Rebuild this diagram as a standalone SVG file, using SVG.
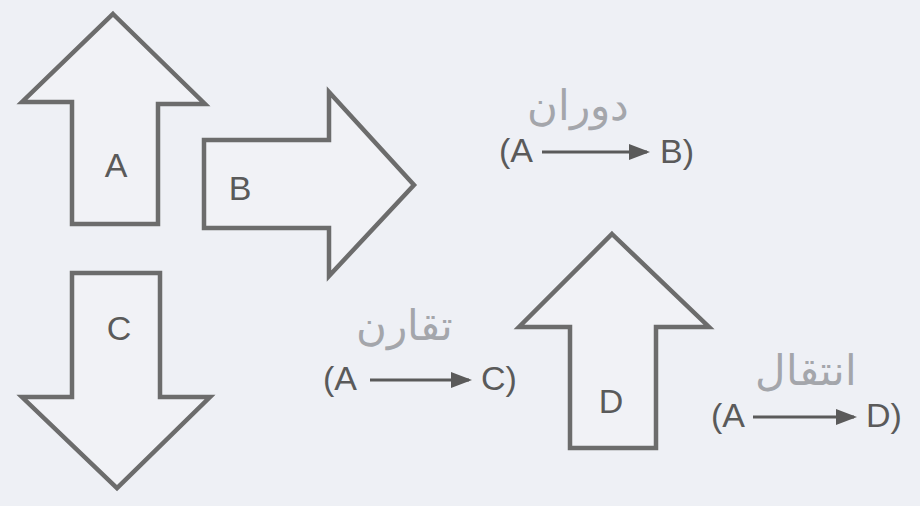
<svg xmlns="http://www.w3.org/2000/svg" width="920" height="506" viewBox="0 0 920 506">
<style>
.shape{fill:#f1f2f6;stroke:#6c6c6c;stroke-width:4.5;stroke-linejoin:miter}
.lbl{font-family:"Liberation Sans",Arial,sans-serif;font-size:34px;fill:#5a5a5a;text-anchor:middle}
.t{font-family:"Liberation Sans",Arial,sans-serif;font-size:34px;fill:#5a5a5a}
.ur{font-family:"DejaVu Sans","Noto Sans",sans-serif;font-size:42px;font-weight:200;fill:#a4a6ab;text-anchor:middle}
.conn{stroke:#5a5a5a;stroke-width:3;fill:none}
</style>
<defs>
<marker id="ah" markerWidth="7" markerHeight="6" refX="6" refY="3" orient="auto" markerUnits="strokeWidth">
<path d="M0,0.3 L7,3 L0,5.7 Z" fill="#5a5a5a"/>
</marker>
</defs>
<rect width="920" height="506" fill="#eef0f5"/>
<g id="arrowA">
<polygon class="shape" points="113,14 205,104 158,104 158,224 72,224 72,102 22,102"/>
<text class="lbl" x="116" y="177">A</text>
</g>
<g id="arrowB">
<polygon class="shape" points="204,140 329,140 329,92 414,185 329,276 329,228 204,228"/>
<text class="lbl" x="240" y="200">B</text>
</g>
<g id="arrowC">
<polygon class="shape" points="72,273 160,273 160,397 210,397 117,488 22,397 72,397"/>
<text class="lbl" x="119" y="340">C</text>
</g>
<g id="arrowD">
<polygon class="shape" points="612,234 709,327 656,327 656,448 570,448 570,327 519,327"/>
<text class="lbl" x="611" y="413">D</text>
</g>
<g id="captionB">
<text class="ur" x="578" y="120" direction="rtl">دوران</text>
<text class="t" x="499" y="162">(A</text>
<text class="t" x="660" y="163">B)</text>
</g>
<g id="captionC">
<text class="ur" x="404" y="340" direction="rtl">تقارن</text>
<text class="t" x="323" y="390">(A</text>
<text class="t" x="481" y="390">C)</text>
</g>
<g id="captionD">
<text class="ur" x="806" y="385" direction="rtl">انتقال</text>
<text class="t" x="711" y="427">(A</text>
<text class="t" x="866" y="427">D)</text>
</g>
<g id="connectors">
<line class="conn" x1="542" y1="152" x2="647" y2="152" marker-end="url(#ah)"/>
<line class="conn" x1="370" y1="380" x2="469" y2="380" marker-end="url(#ah)"/>
<line class="conn" x1="753" y1="417" x2="854" y2="417" marker-end="url(#ah)"/>
</g>
</svg>
